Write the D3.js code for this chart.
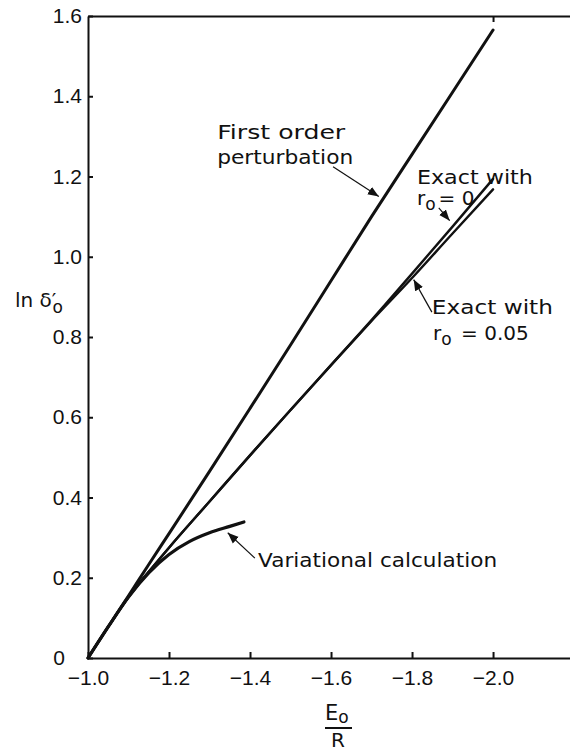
<!DOCTYPE html>
<html>
<head>
<meta charset="utf-8">
<script src="https://cdn.jsdelivr.net/npm/d3@7"></script>
<style>
  body { margin: 0; background: #fff; }
  svg { display: block; }
  .tick text { font-family: "Liberation Sans", Arial, sans-serif; font-size: 21px; fill: #111; }
  .note { font-family: "DejaVu Sans", sans-serif; font-size: 20px; fill: #111; }
</style>
</head>
<body>
<div id="chart"></div>
<script>
// values
const eValues = [-1.0, -1.05, -1.1, -1.15, -1.2, -1.3, -1.4, -1.5, -1.6, -1.7, -1.8, -1.9, -2.0];
const firstOrder = [0, 0.078, 0.155, 0.233, 0.31, 0.465, 0.622, 0.78, 0.94, 1.1, 1.255, 1.41, 1.565];
const exactR0 = [0, 0.078, 0.152, 0.215, 0.275, 0.39, 0.505, 0.618, 0.73, 0.842, 0.958, 1.075, 1.194];
const exactR005 = [0, 0.078, 0.152, 0.215, 0.275, 0.39, 0.505, 0.618, 0.73, 0.84, 0.947, 1.058, 1.168];
const varE = [-1.0, -1.05, -1.1, -1.15, -1.2, -1.25, -1.3, -1.35, -1.385];
const variational = [0, 0.078, 0.152, 0.212, 0.258, 0.29, 0.312, 0.328, 0.339];

const xTicks = [-1.0, -1.2, -1.4, -1.6, -1.8, -2.0];
const yTicks = [0, 0.2, 0.4, 0.6, 0.8, 1.0, 1.2, 1.4, 1.6];

let width = 570,
  height = 752,
  padding = {"top": 16, "bottom": 94, "left": 88, "right": 0};

let x = d3.scaleLinear()
  .domain([-1.0, -2.19])
  .range([padding.left, width - padding.right]);

let y = d3.scaleLinear()
  .domain([0, 1.6])
  .range([height - padding.bottom, padding.top]);

const svg = d3.select("#chart")
  .append("svg")
  .attr("width", width)
  .attr("height", height);

svg.append("defs").append("marker")
  .attr("id", "arrow")
  .attr("viewBox", "0 0 10 10")
  .attr("refX", 10)
  .attr("refY", 5)
  .attr("markerWidth", 11)
  .attr("markerHeight", 11)
  .attr("markerUnits", "userSpaceOnUse")
  .attr("orient", "auto")
  .append("path")
  .attr("d", "M0,1 L10,5 L0,9 Z")
  .style("fill", "#111");

// axes
let fmt = (d) => d === 0 ? "0" : d3.format(".1f")(d);

let yAxis = d3.axisLeft(y).tickValues(yTicks).tickSize(-5).tickSizeOuter(0).tickPadding(6).tickFormat(fmt);
let xAxis = d3.axisBottom(x).tickValues(xTicks).tickSize(-6).tickSizeOuter(0).tickPadding(12).tickFormat(fmt);
let topAxis = d3.axisTop(x).tickValues([-2.0]).tickSize(-6).tickSizeOuter(0).tickFormat("");

const gy = svg.append("g")
  .attr("transform", "translate(" + padding.left + ",0)")
  .call(yAxis);
gy.selectAll(".tick").filter((d) => d === 0).select("text").attr("x", -23);

const gx = svg.append("g")
  .attr("transform", "translate(0," + (height - padding.bottom) + ")")
  .call(xAxis);

const gt = svg.append("g")
  .attr("transform", "translate(0," + padding.top + ")")
  .call(topAxis);

svg.selectAll(".domain, .tick line").style("stroke", "#111").style("stroke-width", 2);

// curves
let line = d3.line()
  .x((d) => x(d[0]))
  .y((d) => y(d[1]))
  .curve(d3.curveMonotoneX);

let series = [
  {e: eValues, v: firstOrder, w: 3},
  {e: eValues, v: exactR0, w: 2.4},
  {e: eValues, v: exactR005, w: 2.4},
  {e: varE, v: variational, w: 3.2}
];

svg.selectAll("path.curve")
  .data(series)
  .enter()
  .append("path")
  .attr("class", "curve")
  .attr("d", (s) => line(s.e.map((e, i) => [e, s.v[i]])))
  .style("fill", "none")
  .style("stroke", "#111")
  .style("stroke-width", (s) => s.w)
  .style("stroke-linecap", "round");

// annotation arrows (data units)
let arrows = [
  [[-1.605, 1.224], [-1.718, 1.15]],
  [[-1.866, 1.122], [-1.893, 1.09]],
  [[-1.849, 0.862], [-1.804, 0.943]],
  [[-1.412, 0.249], [-1.345, 0.312]]
];

svg.selectAll("line.arrow")
  .data(arrows)
  .enter()
  .append("line")
  .attr("class", "arrow")
  .attr("x1", (d) => x(d[0][0]))
  .attr("y1", (d) => y(d[0][1]))
  .attr("x2", (d) => x(d[1][0]))
  .attr("y2", (d) => y(d[1][1]))
  .style("stroke", "#111")
  .style("stroke-width", 1.2)
  .attr("marker-end", "url(#arrow)");

// annotation text
function note(t, e, v, len) {
  return svg.append("text")
    .attr("class", "note")
    .attr("x", x(e))
    .attr("y", y(v))
    .attr("textLength", len)
    .attr("lengthAdjust", "spacingAndGlyphs")
    .text(t);
}

note("First order", -1.319, 1.293, 128);
note("perturbation", -1.319, 1.232, 136);
note("Exact with", -1.812, 1.182, 116);
note("Exact with", -1.849, 0.857, 121);
note("Variational calculation", -1.42, 0.228, 239);

function rLabel(e, v, rest) {
  const t = svg.append("text")
    .attr("class", "note")
    .attr("x", x(e))
    .attr("y", y(v));
  t.append("tspan").text("r");
  t.append("tspan").attr("dy", 5).style("font-size", "17px").text("o");
  t.append("tspan").attr("dy", -5).attr("dx", 3).text(rest);
}
rLabel(-1.812, 1.128, "= 0");
rLabel(-1.852, 0.793, " = 0.05");

// y axis title
const yt = svg.append("text")
  .attr("class", "note")
  .attr("x", 15)
  .attr("y", 307)
  .style("font-size", "20px");
yt.append("tspan").text("ln δ′");
yt.append("tspan").attr("dx", -4).attr("dy", 6).style("font-size", "17px").text("o");

// x axis title
const xt = svg.append("g")
  .attr("transform", "translate(338,0)");
const et = xt.append("text")
  .attr("class", "note")
  .attr("x", -13)
  .attr("y", 720)
  .style("font-size", "21px");
et.append("tspan").text("E");
et.append("tspan").attr("dy", 3).style("font-size", "17px").text("o");
xt.append("line")
  .attr("x1", -13).attr("x2", 14)
  .attr("y1", 728).attr("y2", 728)
  .style("stroke", "#111")
  .style("stroke-width", 2);
xt.append("text")
  .attr("class", "note")
  .attr("x", 0)
  .attr("y", 747)
  .attr("text-anchor", "middle")
  .style("font-size", "20px")
  .text("R");
</script>
</body>
</html>
